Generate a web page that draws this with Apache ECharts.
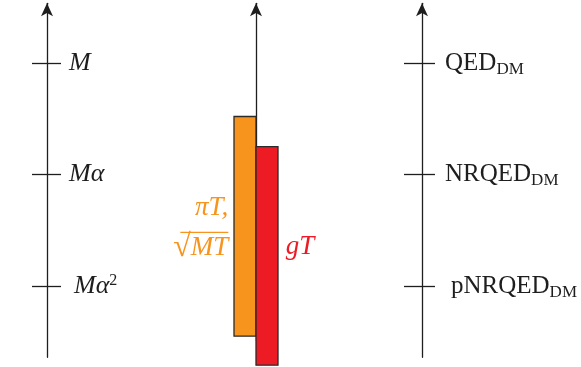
<!DOCTYPE html>
<html>
<head>
<meta charset="utf-8">
<script src="https://cdn.jsdelivr.net/npm/echarts@6/dist/echarts.min.js"></script>
<style>
  html, body { margin: 0; padding: 0; background: #fff; }
  #chart { width: 581px; height: 367px; }
</style>
</head>
<body>
<div id="chart"></div>
<script>
// Energy scales on a logarithmic level axis: 2 = M, 1 = Mα, 0 = Mα²
const levels = [2, 1, 0];
const scaleNames = ['M', 'Mα', 'Mα'];
const scaleSup = ['', '', '2'];
// Effective theory valid at each scale (all with the DM subscript)
const theoryNames = ['QED', 'NRQED', 'pNRQED'];
const theorySub = 'DM';
// Thermal bands on the same level axis
const bandKeys = ['piT', 'gT'];
const bandLow = [-0.45, -0.71];
const bandHigh = [1.52, 1.25];

const ORANGE = '#F7941D';
const RED = '#ED1C24';
const INK = '#1e1e1e';
const SERIF = '"Liberation Serif", "DejaVu Serif", serif';

// layout: pixels per level, pixel row of level 0, level at the arrow tips
const PX = 111.5, Y0 = 286, TOPV = 2.535;

function grid(left, width, minV) {
  return {
    left: left, width: width,
    top: Y0 - TOPV * PX,
    height: (TOPV - minV) * PX,
    containLabel: false,
    outerBoundsMode: 'none'
  };
}

const lineStyle = { color: INK, width: 1.3 };
const arrowLine = {
  show: true, onZero: false,
  symbol: ['none', 'arrow'], symbolSize: [9, 13],
  lineStyle: lineStyle
};
const noLine = { show: false, onZero: false };

// left column: energy scales; right column: theories
const scaleRich = {
  m: { fontFamily: SERIF, fontStyle: 'italic', fontSize: 26, color: INK, lineHeight: 26 },
  m2: { fontFamily: SERIF, fontStyle: 'italic', fontSize: 26, color: INK, lineHeight: 26, padding: [0, 0, 0, 5] },
  sup: { fontFamily: SERIF, fontSize: 16, color: INK, lineHeight: 14, verticalAlign: 'top' }
};
const theoryRich = {
  t: { fontFamily: SERIF, fontSize: 25, color: INK, lineHeight: 30 },
  s: { fontFamily: SERIF, fontSize: 17, color: INK, lineHeight: 14, verticalAlign: 'bottom' },
  tp: { fontFamily: SERIF, fontSize: 25, color: INK, lineHeight: 30, padding: [0, 0, 0, 6] }
};

function sideAxes(gridIndex, leftTick, rightTick, margin, formatter, rich) {
  return [
    {
      type: 'value', gridIndex: gridIndex, position: 'left',
      min: -0.64, max: TOPV,
      axisLine: arrowLine,
      axisTick: { show: true, customValues: levels, length: leftTick, lineStyle: lineStyle },
      axisLabel: { show: false },
      splitLine: { show: false }
    },
    {
      type: 'value', gridIndex: gridIndex, position: 'right', offset: -30,
      min: -0.64, max: TOPV,
      axisLine: noLine,
      axisTick: { show: true, customValues: levels, length: rightTick, lineStyle: lineStyle },
      axisLabel: { show: true, customValues: levels, margin: margin, formatter: formatter, rich: rich },
      splitLine: { show: false }
    }
  ];
}

const chart = echarts.init(document.getElementById('chart'), null, { renderer: 'canvas' });

const option = {
  animation: false,
  backgroundColor: '#fff',
  grid: [
    grid(47, 30, -0.64),
    grid(234, 44, -0.49),
    grid(422, 30, -0.64)
  ],
  xAxis: [
    { type: 'value', gridIndex: 0, show: false, min: 0, max: 1 },
    { type: 'category', gridIndex: 1, show: false, data: bandKeys, boundaryGap: true },
    { type: 'value', gridIndex: 2, show: false, min: 0, max: 1 }
  ],
  yAxis: [
    ...sideAxes(0, 15, 14, 22, function (v) {
      const i = levels.indexOf(v);
      if (scaleSup[i]) return '{m2|' + scaleNames[i] + '}{sup|' + scaleSup[i] + '}';
      return '{m|' + scaleNames[i] + '}';
    }, scaleRich),
    {
      type: 'value', gridIndex: 1, position: 'left', offset: -22,
      min: -0.49, max: TOPV,
      axisLine: arrowLine,
      axisTick: { show: false },
      axisLabel: { show: false },
      splitLine: { show: false }
    },
    ...sideAxes(2, 18, 13, 23, function (v) {
      const i = levels.indexOf(v);
      const key = i === 2 ? 'tp' : 't';
      return '{' + key + '|' + theoryNames[i] + '}{s|' + theorySub + '}';
    }, theoryRich)
  ],
  series: [
    {
      type: 'custom',
      xAxisIndex: 1,
      yAxisIndex: 2,
      clip: false,
      encode: { x: 0, y: [1, 2] },
      data: bandLow.map(function (lo, i) { return [i, lo, bandHigh[i]]; }),
      renderItem: function (params, api) {
        const i = params.dataIndex;
        const top = api.coord([api.value(0), api.value(2)]);
        const bot = api.coord([api.value(0), api.value(1)]);
        const w = api.size([1, 0])[0];
        const color = i === 0 ? ORANGE : RED;
        let textContent, textConfig;
        if (i === 0) {
          // πT, over √MT, with the radical's bar as its own thin line
          textContent = {
            style: {
              text: '{t1|πT,}\n{bar|}\n{r|√}{t|MT}',
              fill: ORANGE,
              align: 'right',
              rich: {
                t1: { fontFamily: SERIF, fontStyle: 'italic', fontSize: 27, lineHeight: 47, fill: ORANGE },
                t: { fontFamily: SERIF, fontStyle: 'italic', fontSize: 27, lineHeight: 29, fill: ORANGE },
                bar: { width: 48, height: 1.4, lineHeight: 2, backgroundColor: ORANGE, fill: ORANGE },
                r: { fontFamily: SERIF, fontSize: 32, lineHeight: 29, fill: ORANGE }
              }
            }
          };
          textConfig = { position: 'left', distance: 5, offset: [0, -3] };
        } else {
          textContent = {
            style: {
              text: 'gT',
              fill: RED,
              fontFamily: SERIF, fontStyle: 'italic', fontSize: 27
            }
          };
          textConfig = { position: 'right', distance: 7, offset: [0, -9] };
        }
        return {
          type: 'rect',
          shape: { x: top[0] - w / 2, y: top[1], width: w, height: bot[1] - top[1] },
          style: { fill: color, stroke: '#2a2a2a', lineWidth: 1.3 },
          textContent: textContent,
          textConfig: textConfig
        };
      }
    }
  ]
};

chart.setOption(option);
</script>
</body>
</html>
